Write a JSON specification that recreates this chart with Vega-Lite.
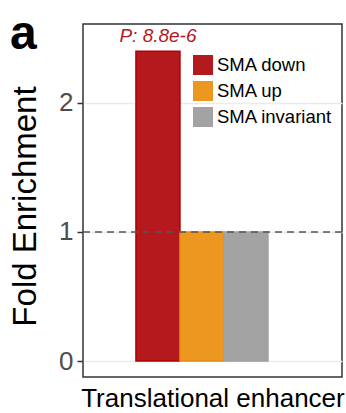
{
  "$schema": "https://vega.github.io/schema/vega-lite/v6.json",
  "width": 259,
  "height": 353,
  "autosize": {"type": "none"},
  "padding": {"left": 83, "top": 24, "right": 4, "bottom": 36},
  "title": {
    "text": "a",
    "anchor": "start",
    "frame": "group",
    "orient": "top",
    "fontSize": 48,
    "fontWeight": "bold",
    "color": "#000000",
    "offset": -35,
    "dx": -73
  },
  "config": {
    "font": "Liberation Sans",
    "view": {"stroke": "#333333", "strokeWidth": 1.5},
    "axis": {"domain": false}
  },
  "data": {
    "values": [
      {"feature": "Translational enhancer", "group": "SMA down", "enrichment": 2.4, "label": "P: 8.8e-6"},
      {"feature": "Translational enhancer", "group": "SMA up", "enrichment": 1.0, "label": ""},
      {"feature": "Translational enhancer", "group": "SMA invariant", "enrichment": 1.0, "label": ""}
    ]
  },
  "layer": [
    {
      "mark": {"type": "bar", "strokeWidth": 1.5},
      "encoding": {
        "x": {
          "field": "feature",
          "type": "nominal",
          "title": null,
          "scale": {"paddingInner": 0, "paddingOuter": 0.481, "align": 0.417},
          "axis": {"ticks": false, "labelAngle": 0, "labelFontSize": 26, "labelColor": "#000000", "labelPadding": 8, "labelLimit": 0, "labelOffset": 11, "grid": false}
        },
        "xOffset": {
          "field": "group",
          "type": "nominal",
          "sort": ["SMA down", "SMA up", "SMA invariant"],
          "scale": {"paddingInner": 0, "paddingOuter": 0}
        },
        "y": {
          "field": "enrichment",
          "type": "quantitative",
          "title": "Fold Enrichment",
          "scale": {"domain": [-0.124, 2.612], "nice": false, "zero": false},
          "axis": {
            "values": [0, 1, 2],
            "format": "d",
            "grid": true,
            "gridColor": "#ebebeb",
            "gridWidth": 1.5,
            "tickSize": 6,
            "tickColor": "#333333",
            "tickWidth": 1.5,
            "labelFontSize": 26,
            "labelColor": "#4d4d4d",
            "labelPadding": 4,
            "titleFontSize": 33,
            "titleFontWeight": "normal",
            "titleColor": "#000000",
            "titleAngle": -90,
            "titleBaseline": "alphabetic",
            "titleAlign": "center",
            "titleX": -48,
            "titleY": 182
          }
        },
        "y2": {"datum": 0},
        "color": {
          "field": "group",
          "type": "nominal",
          "sort": ["SMA down", "SMA up", "SMA invariant"],
          "scale": {"domain": ["SMA down", "SMA up", "SMA invariant"], "range": ["#b4191d", "#ec971f", "#a3a3a3"]},
          "legend": {
            "title": null,
            "orient": "none",
            "legendX": 110,
            "legendY": 31,
            "padding": 0,
            "symbolType": "square",
            "symbolSize": 400,
            "symbolStrokeWidth": 0,
            "symbolOpacity": 1,
            "labelFontSize": 18.5,
            "labelColor": "#000000",
            "labelOffset": 4,
            "rowPadding": 6
          }
        },
        "stroke": {
          "field": "group",
          "type": "nominal",
          "scale": {"domain": ["SMA down", "SMA up", "SMA invariant"], "range": ["#b30000", "#e98a10", "#a0a0a0"]},
          "legend": null
        }
      }
    },
    {
      "mark": {"type": "text", "fontSize": 19, "fontStyle": "italic", "color": "#b4191d", "baseline": "alphabetic", "dy": -9},
      "encoding": {
        "x": {"field": "feature", "type": "nominal"},
        "xOffset": {"field": "group", "type": "nominal", "sort": ["SMA down", "SMA up", "SMA invariant"]},
        "y": {"field": "enrichment", "type": "quantitative"},
        "text": {"field": "label"}
      }
    },
    {
      "data": {"values": [{"reference": 1}]},
      "mark": {"type": "rule", "color": "#555555", "strokeWidth": 1.5, "strokeDash": [7, 5]},
      "encoding": {
        "y": {"field": "reference", "type": "quantitative"}
      }
    }
  ]
}
